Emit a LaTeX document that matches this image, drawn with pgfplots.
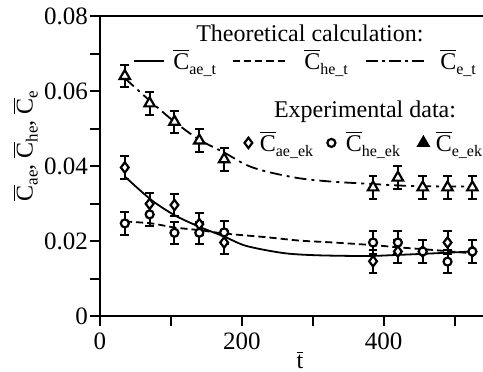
\documentclass[border=0pt]{standalone}
\usepackage{fontspec}
\setmainfont{Liberation Serif}
\usepackage{pgfplots}
\pgfplotsset{compat=1.18}
\newcommand{\Cb}{$\overline{\hbox{C}}$}
\newcommand{\sub}[1]{\raisebox{-0.45ex}{\fontsize{8}{9}\selectfont #1}}
\newcommand{\subb}[1]{\raisebox{-0.45ex}{\fontsize{8.5}{9}\selectfont #1}}
\newcommand{\fs}{\fontsize{12}{14}\selectfont}
\pgfplotsset{legax/.style={at={(0,0)}, anchor=south west, scale only axis,
  width=191.5pt, height=150pt, xmin=0, xmax=540, ymin=0, ymax=0.08, hide axis,
  legend style={draw=none, fill=none, font=\fs, inner sep=0pt, outer sep=0pt,
    nodes={inner sep=0pt}, anchor=west}}}
\begin{document}
\begin{tikzpicture}
\useasboundingbox (-50pt,-27.5pt) rectangle (191.5pt,158pt);
\begin{axis}[
  at={(0,0)}, anchor=south west,
  scale only axis, width=191.5pt, height=150pt,
  xmin=0, xmax=540, ymin=0, ymax=0.08,
  axis x line=box, axis y line=left,
  axis line style={-, line width=1pt},
  xtick pos=left,
  xtick={0,200,400}, minor xtick={100,300,500},
  ytick={0,0.02,0.04,0.06,0.08}, minor ytick={0.01,0.03,0.05,0.07},
  scaled y ticks=false, scaled x ticks=false,
  yticklabels={0,0.02,0.04,0.06,0.08},
  xticklabels={0,200,400},
  tick align=outside, major tick length=5pt, minor tick length=5pt,
  every tick/.style={line width=1pt, black},
  minor tick style={line width=1pt, black},
  xticklabel style={font=\fontsize{12.5}{14}\selectfont, inner sep=3pt},
  yticklabel style={font=\fontsize{12.5}{14}\selectfont, inner sep=0.8pt},
  xlabel={$\overline{\hbox{t}}$},
  xlabel style={font=\fs, at={(axis description cs:0.522,0)}, yshift=-22pt, anchor=center},
  ylabel={\Cb\subb{ae}, \Cb\subb{he}, \Cb\subb{e}},
  ylabel style={font=\fs, at={(axis description cs:-0.195,0.567)}, anchor=center},
]
% theoretical curves
\addplot[black, line width=0.9pt, dash pattern=on 6pt off 2.5pt on 1.5pt off 2.5pt, smooth] coordinates {
(35,0.0634)(72,0.0571)(105,0.0518)(140,0.047)(175,0.0436)(206,0.0403)(235,0.0385)(282,0.0367)(329,0.0358)(385,0.0352)(421,0.0348)(455,0.0346)(525,0.0345)};
\addplot[black, line width=0.9pt, smooth] coordinates {
(35,0.0372)(72,0.031)(105,0.0269)(140,0.0238)(175,0.0212)(206,0.0187)(258,0.0168)(305,0.0162)(376,0.016)(421,0.0163)(470,0.0167)(525,0.0172)};
\addplot[black, line width=0.9pt, dash pattern=on 3.6pt off 2pt, smooth] coordinates {
(35,0.0252)(72,0.0247)(105,0.0236)(140,0.0229)(175,0.022)(235,0.021)(282,0.0201)(329,0.0196)(385,0.0189)(421,0.0183)(470,0.0176)(525,0.0167)};

% experimental data
\addplot[black, only marks, mark=triangle*, mark size=3pt, mark options={fill=white, line width=1.1pt},
  error bars/.cd, y dir=both, y fixed=0.003, error bar style={line width=1pt}, error mark options={rotate=90, mark size=2.2pt, line width=1pt}]
 coordinates {(35,0.064)(70,0.0567)(105,0.0518)(140,0.0468)(175,0.0418)(385,0.0343)(420,0.0369)(455,0.0343)(490,0.0343)(525,0.0343)};
\addplot[black, only marks, mark=diamond*, mark size=2.6pt, mark options={fill=white, line width=1.1pt},
  error bars/.cd, y dir=both, y fixed=0.003, error bar style={line width=1pt}, error mark options={rotate=90, mark size=2.2pt, line width=1pt}]
 coordinates {(35,0.0396)(70,0.0299)(105,0.0296)(140,0.0245)(175,0.0196)(385,0.0146)(420,0.0172)(455,0.0172)(490,0.0196)(525,0.0172)};
\addplot[black, only marks, mark=*, mark size=2pt, mark options={fill=white, line width=1.1pt},
  error bars/.cd, y dir=both, y fixed=0.003, error bar style={line width=1pt}, error mark options={rotate=90, mark size=2.2pt, line width=1pt}]
 coordinates {(35,0.0247)(70,0.0271)(105,0.0222)(140,0.0222)(175,0.0223)(385,0.0196)(420,0.0196)(455,0.0172)(490,0.0145)(525,0.0172)};

\node[font=\fs] at (axis description cs:0.548,0.943) {Theoretical calculation:};
\node[font=\fs] at (axis description cs:0.692,0.68) {Experimental data:};
\end{axis}
% legend entries, one hidden axis each
\begin{axis}[legax, legend style={at={(axis description cs:0.0862,0.85)}},
  legend image code/.code={\path (0pt,0pt) (19.5pt,0pt); \draw[line width=0.9pt] (0pt,0pt) -- (15pt,0pt);}]
\addlegendimage{black}
\addlegendentry{\Cb\sub{ae\_t}}
\end{axis}
\begin{axis}[legax, legend style={at={(axis description cs:0.3446,0.85)}},
  legend image code/.code={\path (0pt,0pt) (35.5pt,0pt); \draw[line width=0.9pt, dash pattern=on 3.6pt off 2pt] (0pt,0pt) -- (28pt,0pt);}]
\addlegendimage{black}
\addlegendentry{\Cb\sub{he\_t}}
\end{axis}
\begin{axis}[legax, legend style={at={(axis description cs:0.6919,0.85)}},
  legend image code/.code={\path (0pt,0pt) (37pt,0pt); \draw[line width=0.9pt, dash pattern=on 6pt off 2pt on 1.5pt off 2pt] (0pt,0pt) -- (30pt,0pt);}]
\addlegendimage{black}
\addlegendentry{\Cb\sub{e\_t}}
\end{axis}
\begin{axis}[legax, legend style={at={(axis description cs:0.3708,0.577)}},
  legend image code/.code={\path (0pt,0pt) (8.5pt,0pt); \draw[#1] plot coordinates {(3pt,0pt)};}]
\addlegendimage{only marks, black, mark=diamond*, mark size=2.6pt, mark options={fill=white, line width=1.1pt}}
\addlegendentry{\Cb\sub{ae\_ek}}
\end{axis}
\begin{axis}[legax, legend style={at={(axis description cs:0.5875,0.577)}},
  legend image code/.code={\path (0pt,0pt) (10pt,0pt); \draw[#1] plot coordinates {(3pt,0pt)};}]
\addlegendimage{only marks, black, mark=*, mark size=2pt, mark options={fill=white, line width=1.1pt}}
\addlegendentry{\Cb\sub{he\_ek}}
\end{axis}
\begin{axis}[legax, legend style={at={(axis description cs:0.8277,0.577)}},
  legend image code/.code={\path (0pt,0pt) (9pt,0pt); \draw[#1] plot coordinates {(3pt,0pt)};}]
\addlegendimage{only marks, black, mark=triangle*, mark size=3pt, mark options={fill=black, line width=1pt}}
\addlegendentry{\Cb\sub{e\_ek}}
\end{axis}
\end{tikzpicture}
\end{document}
